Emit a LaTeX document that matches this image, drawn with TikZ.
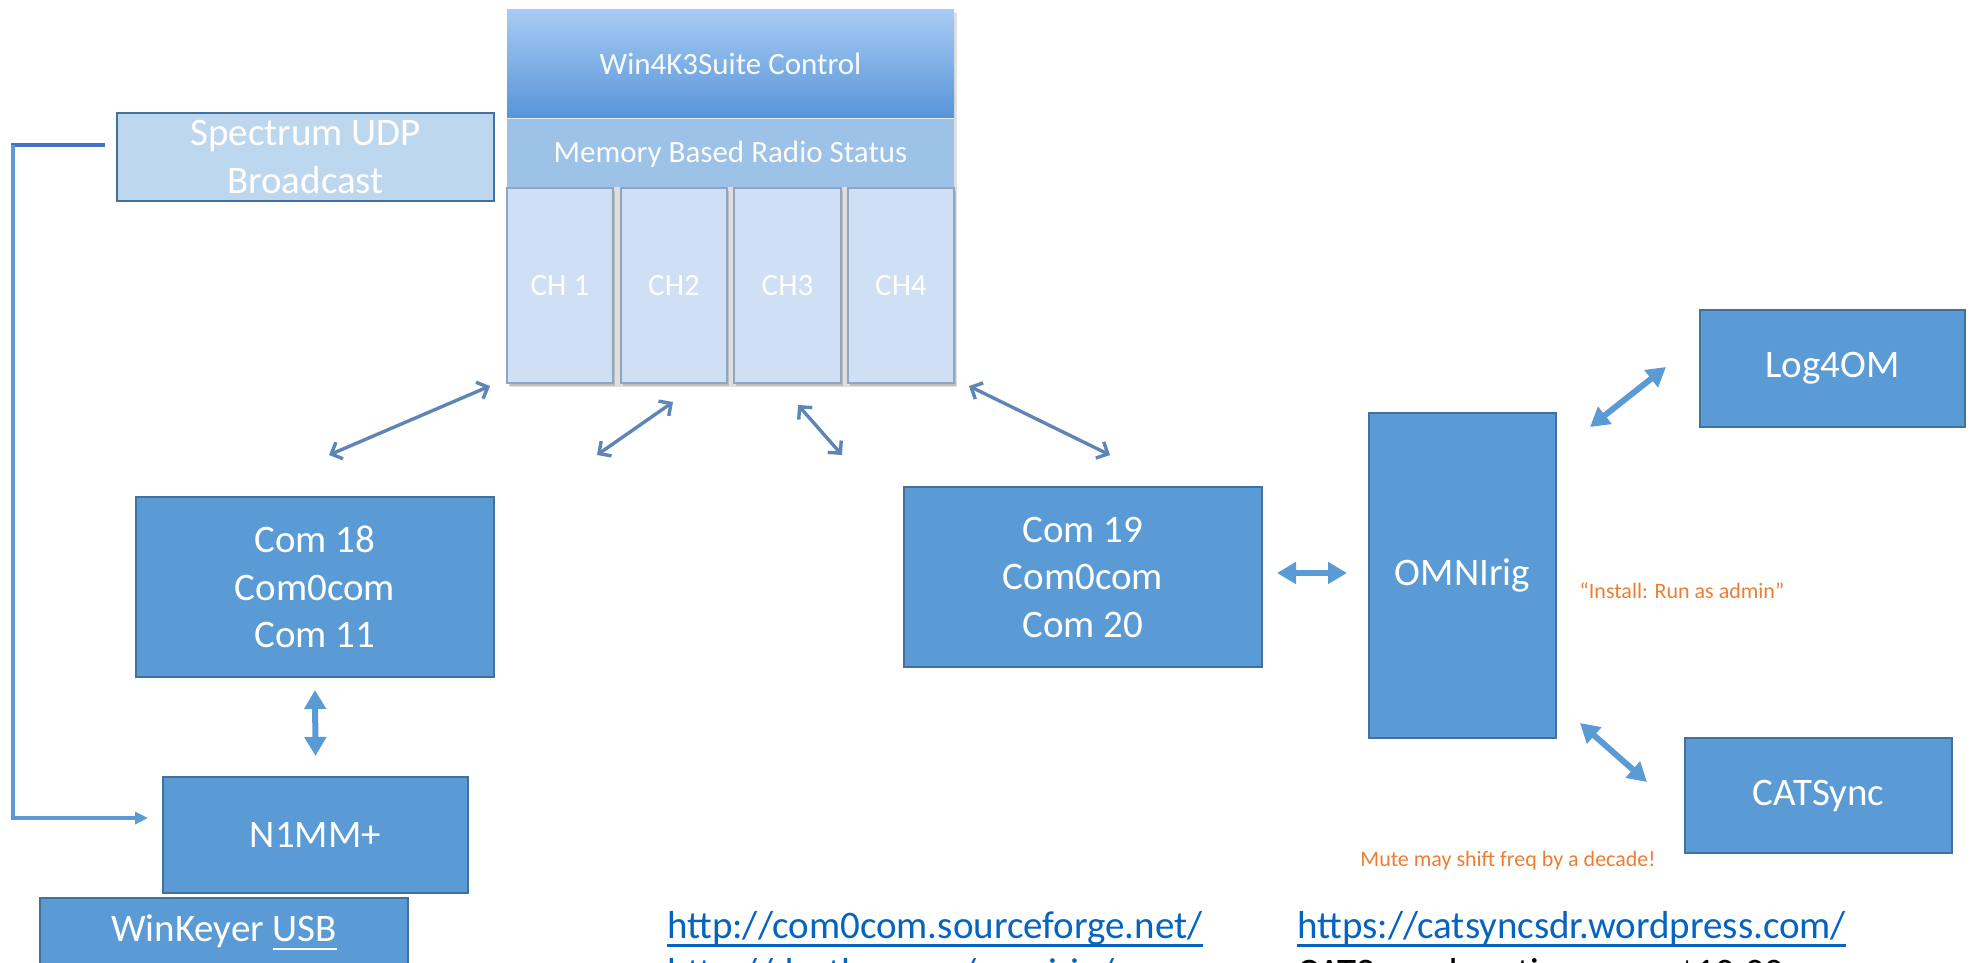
\documentclass[tikz,border=0pt]{standalone}
\usepackage{fontspec}
\setmainfont{Carlito}
\newcommand{\myuline}[2][6pt]{\setbox0\hbox{#2}\rlap{\vrule height -#1 depth \dimexpr#1+2.6pt\relax width \wd0}\box0}
\usetikzlibrary{arrows.meta,shadows}
\definecolor{boxfill}{HTML}{5B9BD5}
\definecolor{boxdraw}{HTML}{41719C}
\definecolor{specfill}{HTML}{BDD7EE}
\definecolor{urlcol}{HTML}{0563C1}
\definecolor{orangecol}{HTML}{ED7D31}
\definecolor{hdrtop}{HTML}{A8CCF4}
\definecolor{hdrbot}{HTML}{5794D8}
\definecolor{bandfill}{HTML}{9DC2E8}
\definecolor{colfill}{HTML}{CFE0F4}
\definecolor{coldraw}{HTML}{8FA6C2}
\definecolor{thinarr}{HTML}{5D86B6}
\definecolor{brackettop}{HTML}{4472C4}
\begin{document}
\begin{tikzpicture}[x=1pt,y=-1pt,
  bigfont/.style={font=\fontsize{39}{47.5}\selectfont},
  box/.style={draw=boxdraw, line width=2pt, fill=boxfill, text=white, bigfont, align=center, inner sep=0pt},
  specbox/.style={box, fill=specfill},
  colbox/.style={draw=coldraw, line width=1.2pt, fill=colfill, text=white!96!colfill, font=\fontsize{31}{36}\selectfont, inner sep=0pt,
     drop shadow={opacity=0.35, shadow xshift=2pt, shadow yshift=-3pt}},
  fat/.style={line width=6pt, draw=boxfill, {Triangle[length=19pt,width=21pt]}-{Triangle[length=19pt,width=21pt]}},
  thinar/.style={line width=3.4pt, draw=thinarr, {Straight Barb[length=9pt,width=18pt]}-{Straight Barb[length=9pt,width=18pt]}},
  urltext/.style={text=urlcol, bigfont, inner sep=0pt, anchor=base west},
  note/.style={text=orangecol, font=\fontsize{22}{26}\selectfont, inner sep=0pt}
]
\useasboundingbox (0,0) rectangle (1971,962);

% Win4K3Suite block
\fill[black!25, opacity=0.5] (510,13) rectangle (957,387);
\shade[top color=hdrtop, bottom color=hdrbot] (507,9) rectangle (954,118);
\node[text=white!92!hdrtop, font=\fontsize{31}{36}\selectfont, inner sep=0pt] (hdr) at (730.5,64) {Win4K3Suite Control};
\fill[bandfill] (507,118) rectangle (954,187);
\draw[white!70!bandfill, line width=1pt] (507,118.5) -- (954,118.5);
\node[text=white!95!bandfill, font=\fontsize{31}{36}\selectfont, inner sep=0pt] (band) at (730.5,154) {Memory Based Radio Status};
\node[colbox, minimum width=106pt, minimum height=195pt] (ch1) at (560,285.5) {CH 1};
\node[colbox, minimum width=106pt, minimum height=195pt] (ch2) at (674,285.5) {CH2};
\node[colbox, minimum width=107pt, minimum height=195pt] (ch3) at (787.5,285.5) {CH3};
\node[colbox, minimum width=106pt, minimum height=195pt] (ch4) at (901,285.5) {CH4};

% thin arrows from the block
\coordinate (a1s) at (490,386); \coordinate (a1e) at (329,455);
\coordinate (a2s) at (673,402); \coordinate (a2e) at (597,455);
\coordinate (a3s) at (798,405); \coordinate (a3e) at (842,455);
\coordinate (a4s) at (969,386); \coordinate (a4e) at (1110,455);
\draw[thinar] (a1s) -- (a1e);
\draw[thinar] (a2s) -- (a2e);
\draw[thinar] (a3s) -- (a3e);
\draw[thinar] (a4s) -- (a4e);

% boxes
\node[specbox, minimum width=377pt, minimum height=88pt, font=\fontsize{39}{48}\selectfont] (spec) at (305.5,157) {Spectrum UDP\\Broadcast};
\node[box, minimum width=358pt, minimum height=180pt] (com18) at (315,587) {Com 18\\Com0com\\Com 11};
\node[box, minimum width=305pt, minimum height=116pt] (n1mm) at (315.5,835) {N1MM+};
\node[box, minimum width=368pt, minimum height=69pt] (wk) at (224,932.5) {WinKeyer \myuline{USB}};
\node[box, minimum width=358pt, minimum height=180pt] (com19) at (1083,577) {Com 19\\Com0com\\Com 20};
\node[box, minimum width=187pt, minimum height=325pt] (omni) at (1462.5,575.5) {OMNIrig};
\node[box, minimum width=265pt, minimum height=117pt] (log) at (1832.5,368.5) {Log4OM};
\node[box, minimum width=267pt, minimum height=115pt] (cat) at (1818.5,795.5) {CATSync};

% fat arrows
\draw[fat] ([yshift=-12pt]com18.south) -- ([yshift=20pt]n1mm.north);
\coordinate (h1) at (1277,573); \coordinate (h2) at (1347,573);
\draw[fat] (h1) -- (h2);
\coordinate (l1) at (1590,427); \coordinate (l2) at (1666,367);
\draw[fat] (l1) -- (l2);
\coordinate (k1) at (1580,723); \coordinate (k2) at (1647,782);
\draw[fat] (k1) -- (k2);

% bracket from spectrum to N1MM
\coordinate (bt) at (105,145); \coordinate (bc) at (11,145);
\coordinate (bv) at (13,145); \coordinate (bb) at (13,818); \coordinate (be) at (148,818);
\draw[line width=3.4pt, draw=brackettop] (bt) -- (bc);
\draw[line width=3.4pt, draw=boxfill, -{Triangle[length=13pt,width=12pt]}] (bv) -- (bb) -- (be);

% notes
\node[note] (n1) at (1682,591) {“Install: Run as admin”};
\node[note] (n2) at (1508,861) {Mute may shift freq by a decade!};

% links
\node[urltext] (u1) at (667,938) {\myuline{http://com0com.sourceforge.net/}};
\node[urltext] (u2) at (667,985) {\myuline{http://dxatlas.com/omnirig/}};
\node[urltext] (u3) at (1297,938) {\myuline{https://catsyncsdr.wordpress.com/}};
\node[urltext, text=black] (u4) at (1297,985) {CATSync donation ware \$10.00};
\end{tikzpicture}
\end{document}
